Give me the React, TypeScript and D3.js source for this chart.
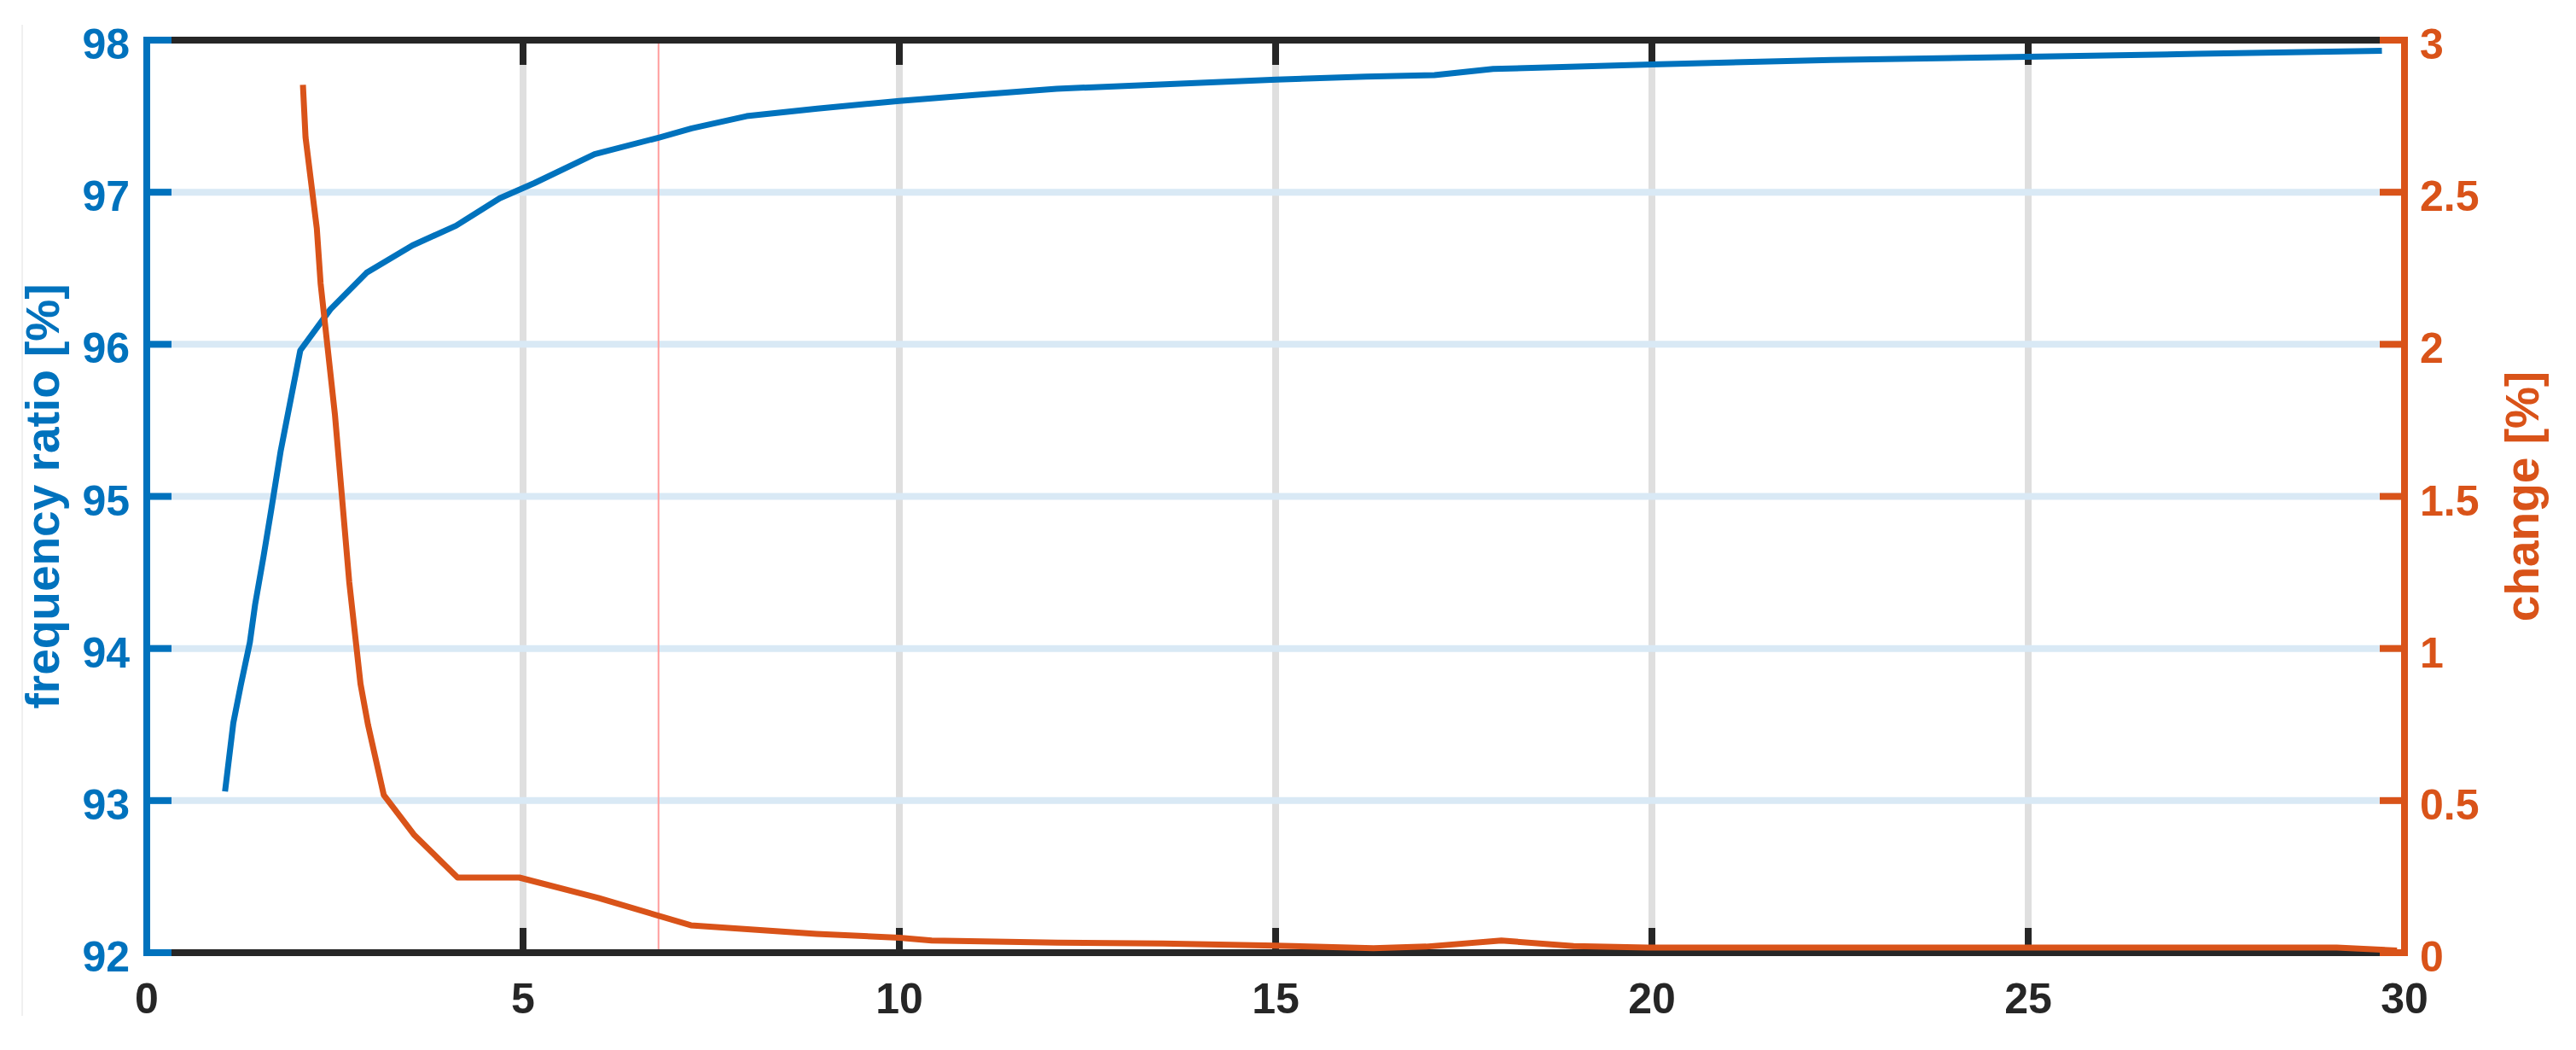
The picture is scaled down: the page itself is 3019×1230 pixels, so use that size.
import React from "react";
import * as d3 from "d3";

// ---- data ----
const ratioX = [1.04, 1.15, 1.25, 1.37, 1.44, 1.55, 1.65, 1.78, 2.04, 2.44, 2.92, 3.53, 4.11, 4.69, 5.15, 5.95, 6.81, 7.24, 7.97, 8.91, 10.0, 11.0, 12.09, 13.53, 15.01, 16.2, 17.11, 17.89, 20.0, 22.38, 25.0, 27.26, 29.7];
const ratioY = [93.06, 93.51, 93.76, 94.04, 94.29, 94.6, 94.9, 95.3, 95.96, 96.23, 96.47, 96.65, 96.78, 96.96, 97.06, 97.25, 97.36, 97.42, 97.5, 97.55, 97.6, 97.64, 97.68, 97.71, 97.74, 97.76, 97.77, 97.81, 97.84, 97.87, 97.89, 97.91, 97.93];

const changeX = [2.075, 2.11, 2.26, 2.31, 2.5, 2.69, 2.84, 2.94, 3.15, 3.55, 4.13, 4.95, 6.0, 7.23, 8.9, 10.0, 10.43, 12.1, 13.5, 15.0, 16.3, 17.0, 18.0, 18.96, 19.94, 29.1, 29.9];
const changeY = [2.853, 2.68, 2.38, 2.2, 1.77, 1.22, 0.884, 0.749, 0.518, 0.388, 0.247, 0.247, 0.18, 0.09, 0.062, 0.049, 0.04, 0.033, 0.03, 0.023, 0.015, 0.02, 0.04, 0.022, 0.017, 0.017, 0.007];

const xTicks = [0, 5, 10, 15, 20, 25, 30];
const leftTicks = [92, 93, 94, 95, 96, 97, 98];
const rightTicks = [0, 0.5, 1, 1.5, 2, 2.5, 3];
const markerX = 6.8;

const leftLabel = "frequency ratio [%]";
const rightLabel = "change [%]";

// ---- styling ----
const W = 3019;
const H = 1230;
const BLUE = "#0072BD";
const ORANGE = "#D95319";
const DARK = "#262626";
const VGRID = "#dfdfdf";
const HGRID = "#d9e9f5";
const FONT = "'Liberation Sans', Arial, Helvetica, sans-serif";

export default function App() {
  const L = 172, R = 2818, T = 47, B = 1116;
  const x = d3.scaleLinear().domain([0, 30]).range([L, R]);
  const yL = d3.scaleLinear().domain([92, 98]).range([B, T]);
  const yR = d3.scaleLinear().domain([0, 3]).range([B, T]);
  const tick = 29;
  const lw = 8;

  const ratioLine = d3
    .line<number>()
    .x((_, i) => x(ratioX[i]))
    .y((d) => yL(d))(ratioY) as string;
  const changeLine = d3
    .line<number>()
    .x((_, i) => x(changeX[i]))
    .y((d) => yR(d))(changeY) as string;

  return (
    <svg
      width={W}
      height={H}
      viewBox={`0 0 ${W} ${H}`}
      style={{ position: "absolute", left: 0, top: 0, background: "#fff" }}
    >
      <rect x={0} y={0} width={W} height={H} fill="#fff" />
      {/* faint figure border artifact */}
      <line x1={26} x2={26} y1={29} y2={1190} stroke="#f0f0f0" strokeWidth={2} />

      {/* grid */}
      {xTicks.slice(1, -1).map((t) => (
        <line key={"vg" + t} x1={x(t)} x2={x(t)} y1={T} y2={B} stroke={VGRID} strokeWidth={lw} />
      ))}
      {leftTicks.slice(1, -1).map((t) => (
        <line key={"hg" + t} x1={L} x2={R} y1={yL(t)} y2={yL(t)} stroke={HGRID} strokeWidth={lw} />
      ))}

      {/* red marker line */}
      <line x1={x(markerX)} x2={x(markerX)} y1={T} y2={B} stroke="#ff9d9d" strokeWidth={2} />

      {/* top & bottom axes */}
      <line x1={L} x2={R} y1={T} y2={T} stroke={DARK} strokeWidth={lw} />
      <line x1={L} x2={R} y1={B} y2={B} stroke={DARK} strokeWidth={lw} />
      {xTicks.map((t) => (
        <g key={"xt" + t}>
          <line x1={x(t)} x2={x(t)} y1={T} y2={T + tick} stroke={DARK} strokeWidth={lw} />
          <line x1={x(t)} x2={x(t)} y1={B} y2={B - tick} stroke={DARK} strokeWidth={lw} />
          <text
            x={x(t)}
            y={1187}
            textAnchor="middle"
            fontFamily={FONT}
            fontWeight="bold"
            fontSize={50}
            fill={DARK}
          >
            {t}
          </text>
        </g>
      ))}

      {/* left axis */}
      <line x1={L} x2={L} y1={T - lw / 2} y2={B + lw / 2} stroke={BLUE} strokeWidth={lw} />
      {leftTicks.map((t) => (
        <g key={"lt" + t}>
          <line x1={L} x2={L + tick} y1={yL(t)} y2={yL(t)} stroke={BLUE} strokeWidth={lw} />
          <text
            x={152}
            y={yL(t) + 22}
            textAnchor="end"
            fontFamily={FONT}
            fontWeight="bold"
            fontSize={50}
            fill={BLUE}
          >
            {t}
          </text>
        </g>
      ))}

      {/* right axis */}
      <line x1={R} x2={R} y1={T - lw / 2} y2={B + lw / 2} stroke={ORANGE} strokeWidth={lw} />
      {rightTicks.map((t) => (
        <g key={"rt" + t}>
          <line x1={R} x2={R - tick} y1={yR(t)} y2={yR(t)} stroke={ORANGE} strokeWidth={lw} />
          <text
            x={2836}
            y={yR(t) + 22}
            textAnchor="start"
            fontFamily={FONT}
            fontWeight="bold"
            fontSize={50}
            fill={ORANGE}
          >
            {t}
          </text>
        </g>
      ))}

      {/* data */}
      <path d={ratioLine} fill="none" stroke={BLUE} strokeWidth={7} strokeLinejoin="round" />
      <path d={changeLine} fill="none" stroke={ORANGE} strokeWidth={7} strokeLinejoin="round" />

      {/* axis labels */}
      <text
        transform={`translate(69, ${(T + B) / 2}) rotate(-90)`}
        textAnchor="middle"
        fontFamily={FONT}
        fontWeight="bold"
        fontSize={55}
        fill={BLUE}
      >
        {leftLabel}
      </text>
      <text
        transform={`translate(2975, ${(T + B) / 2}) rotate(-90)`}
        textAnchor="middle"
        fontFamily={FONT}
        fontWeight="bold"
        fontSize={55}
        fill={ORANGE}
      >
        {rightLabel}
      </text>
    </svg>
  );
}
